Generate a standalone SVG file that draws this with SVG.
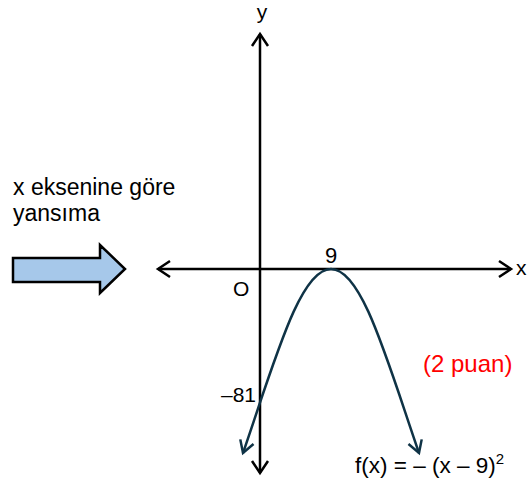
<svg xmlns="http://www.w3.org/2000/svg" width="528" height="483" viewBox="0 0 528 483">
<style>
text{font-family:"Liberation Sans",Arial,sans-serif;fill:#000;}
.axis{stroke:#000;stroke-width:2.5;fill:none;}
.curve{stroke:#0f3346;stroke-width:2.5;fill:none;}
.lbl{font-size:21px;}
</style>
<defs>
<marker id="ah" markerUnits="userSpaceOnUse" markerWidth="20" markerHeight="20" refX="12" refY="8" orient="auto" overflow="visible">
<path d="M0,0 L12,8 L0,16" fill="none" stroke="#000" stroke-width="2.5"/>
</marker>
<marker id="ahc" markerUnits="userSpaceOnUse" markerWidth="20" markerHeight="20" refX="12" refY="8" orient="auto-start-reverse" overflow="visible">
<path d="M0,1 L12,8 L0,15" fill="none" stroke="#0f3346" stroke-width="2.5"/>
</marker>
</defs>
<rect width="528" height="483" fill="#fff"/>
<g id="connectors">
<line class="axis" x1="260" y1="253" x2="260" y2="34" marker-end="url(#ah)"/>
<line class="axis" x1="260" y1="253" x2="260" y2="473" marker-end="url(#ah)"/>
<line class="axis" x1="335" y1="269" x2="158" y2="269" marker-end="url(#ah)"/>
<line class="axis" x1="335" y1="269" x2="511" y2="269" marker-end="url(#ah)"/>
</g>
<g id="curve">
<path class="curve" d="M243,453 C275,360 300,269 331,269 C362,269 387,360 419,453" marker-start="url(#ahc)" marker-end="url(#ahc)"/>
</g>
<g id="reflection-arrow">
<polygon points="13,258 100,258 100,245 125,269 100,293 100,282 13,282" fill="#a6c8ea" stroke="#000" stroke-width="2.5" stroke-linejoin="miter"/>
</g>
<g id="caption">
<text x="13" y="195" font-size="23">x eksenine göre</text>
<text x="13" y="221" font-size="23">yansıma</text>
</g>
<g id="labels">
<text class="lbl" x="262" y="19" text-anchor="middle">y</text>
<text class="lbl" x="516" y="275">x</text>
<text x="331" y="263" font-size="22" text-anchor="middle">9</text>
<text class="lbl" x="233" y="296">O</text>
<text class="lbl" x="256" y="402" text-anchor="end">–81</text>
<text x="423" y="372" font-size="24" fill="#ff0000" style="fill:#ff0000">(2 puan)</text>
<text x="355" y="473" font-size="22.5">f(x) = – (x – 9)<tspan font-size="15" dy="-9">2</tspan></text>
</g>
</svg>
